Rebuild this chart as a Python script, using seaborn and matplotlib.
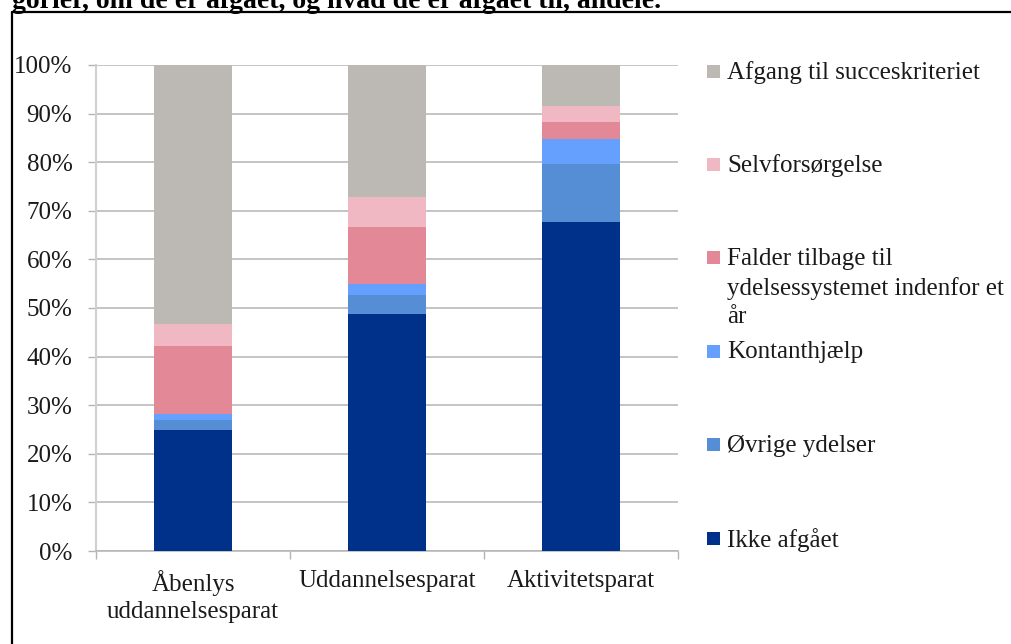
import matplotlib
matplotlib.use("Agg")
import matplotlib.pyplot as plt
import matplotlib.ticker as mticker
from matplotlib.lines import Line2D
from matplotlib.patches import Rectangle
import numpy as np
import pandas as pd
import seaborn as sns

# ---- data (percent) ----
categories = ["Åbenlys\nuddannelsesparat", "Uddannelsesparat", "Aktivitetsparat"]
series_names = ["Ikke afgået", "Øvrige ydelser", "Kontanthjælp",
                "Falder tilbage til\nydelsessystemet indenfor et\når",
                "Selvforsørgelse", "Afgang til succeskriteriet"]
ikke_afgaaet = [25.0, 48.8, 67.7]
oevrige_ydelser = [2.0, 3.8, 11.9]
kontanthjaelp = [1.2, 2.4, 5.1]
falder_tilbage = [13.9, 11.6, 3.5]
selvforsoergelse = [4.6, 6.2, 3.4]
afgang_succes = [53.3, 27.2, 8.4]
yticks = [0, 10, 20, 30, 40, 50, 60, 70, 80, 90, 100]
title_text = "gorier, om de er afgået, og hvad de er afgået til, andele."

colors = ["#00318A", "#558ED5", "#66A0FF", "#E28897", "#F0B8C2", "#BCB8B4"]

series = [ikke_afgaaet, oevrige_ydelser, kontanthjaelp, falder_tilbage,
          selvforsoergelse, afgang_succes]

sns.set_theme(style="white")
plt.rcParams["font.family"] = ["Liberation Serif", "DejaVu Serif"]

W, H = 1012, 644
fig = plt.figure(figsize=(W / 100, H / 100), dpi=100)

def fx(px):
    return px / W

def fy(py):
    return 1 - py / H

ax_left, ax_right, ax_top, ax_bot = 96, 678, 65, 551
ax = fig.add_axes([fx(ax_left), fy(ax_bot), fx(ax_right - ax_left), (ax_bot - ax_top) / H])

cum = np.cumsum(np.array(series), axis=0)
df = pd.DataFrame({"cat": categories})
for i in reversed(range(len(series))):
    df["val"] = cum[i]
    sns.barplot(data=df, x="cat", y="val", order=categories, color=colors[i],
                width=0.4, saturation=1, ax=ax, zorder=3, linewidth=0)

ax.set_xlim(-0.5, 2.5)
ax.set_ylim(0, 100)
ax.set_yticks(yticks)
ax.yaxis.set_major_formatter(mticker.FuncFormatter(lambda v, p: f"{int(v)}%"))
ax.set_xlabel("")
ax.set_ylabel("")
ax.grid(axis="y", color="#B4B4B4", linewidth=1.1, zorder=0)
ax.set_axisbelow(True)
for s in ["top", "right"]:
    ax.spines[s].set_visible(False)
ax.spines["left"].set_color("#D0D0D0")
ax.spines["left"].set_linewidth(1.5)
ax.spines["bottom"].set_color("#B4B4B4")
ax.spines["bottom"].set_linewidth(1.1)

ax.tick_params(axis="y", which="major", length=6, width=1.0, color="#B4B4B4",
               pad=11, labelsize=18, labelcolor="#1a1a1a", left=True)
ax.set_xticks([0, 1, 2])
ax.set_xticklabels(categories, fontsize=18, color="#1a1a1a", linespacing=1.25)
ax.tick_params(axis="x", which="major", length=0, pad=14)
ax.set_xticks([-0.5, 0.5, 1.5, 2.5], minor=True)
ax.tick_params(axis="x", which="minor", length=6, width=1.0, color="#B4B4B4", bottom=True)

# legend (manual, Excel-like spacing)
legend_order = list(reversed(range(len(series_names))))
y0, step = 70, 93.4
for k, i in enumerate(legend_order):
    yc = y0 + k * step
    fig.add_artist(Rectangle((fx(707), fy(yc + 7.5)), fx(13), 13 / H,
                             transform=fig.transFigure, facecolor=colors[i],
                             edgecolor="none"))
    fig.text(fx(727), fy(yc - 9), series_names[i], fontsize=18, va="top",
             ha="left", color="#1a1a1a", linespacing=1.38)

# frame and cut title
fig.add_artist(Line2D([fx(12), 1], [fy(12), fy(12)], transform=fig.transFigure,
                      color="black", linewidth=1.6))
fig.add_artist(Line2D([fx(12), fx(12)], [fy(12), 0], transform=fig.transFigure,
                      color="black", linewidth=1.6))
fig.text(fx(12), fy(8), title_text, fontsize=20, fontweight="bold",
         va="baseline", ha="left", color="black")

fig.savefig("out.png", dpi=100)
